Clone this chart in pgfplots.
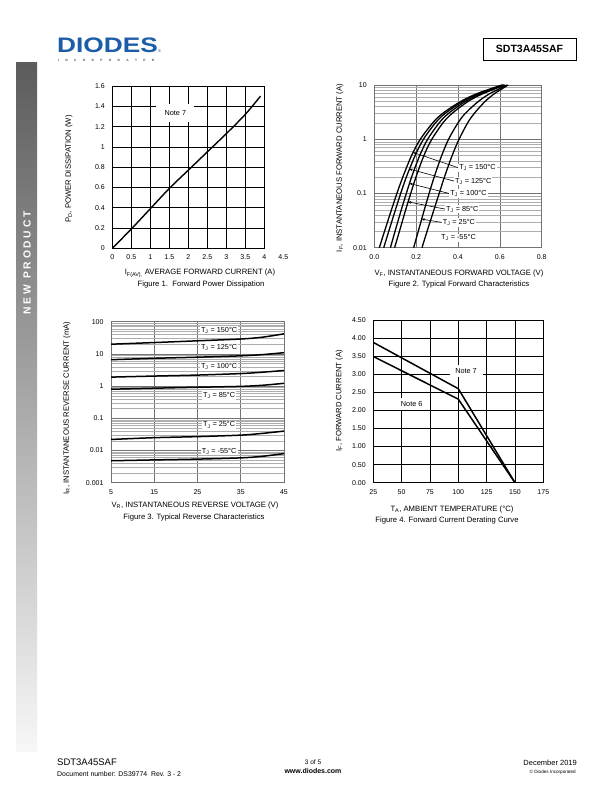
\documentclass[border=0pt]{standalone}
\usepackage{graphicx}
\usepackage{pgfplots}
\pgfplotsset{compat=1.18}
\usetikzlibrary{arrows.meta}
\usepackage{fontspec}
\setmainfont{Liberation Sans}
\definecolor{diodesblue}{HTML}{1D5CA8}
\definecolor{gridmaj}{gray}{0.45}
\definecolor{gridmin}{gray}{0.68}
\newcommand{\tk}{\fontsize{7}{8}\selectfont}
\newcommand{\lb}{\fontsize{7.7}{9}\selectfont}
\newcommand{\an}{\fontsize{7.3}{8.5}\selectfont}
\pgfplotsset{
  base/.style={scale only axis, anchor=south west, clip mode=individual,
    tick label style={font=\tk}, /pgf/number format/assume math mode=true,
    xticklabel style={yshift=-3pt}, yticklabel style={xshift=-4pt},
    major tick length=0pt, minor tick length=0pt},
  logminor/.style={minor ytick={0.002,0.003,0.004,0.005,0.006,0.007,0.008,0.009,
     0.02,0.03,0.04,0.05,0.06,0.07,0.08,0.09,0.2,0.3,0.4,0.5,0.6,0.7,0.8,0.9,
     2,3,4,5,6,7,8,9,20,30,40,50,60,70,80,90}},
}
\begin{document}
\begin{tikzpicture}[x=1pt,y=1pt]
\path[use as bounding box] (0,0) rectangle (612,792);
\fill[white] (0,0) rectangle (612,792);

% ---------- header ----------
\node[anchor=base west, inner sep=0pt, text=diodesblue, font=\fontsize{21}{21}\selectfont\bfseries] at (57,792-53) {\scalebox{1.25}[1]{DIODES}};
\node[anchor=base west, inner sep=0pt, text=diodesblue, font=\fontsize{4}{4}\selectfont] at (158,792-53) {®};
\node[anchor=base west, inner sep=0pt, text=black!70, font=\fontsize{3.2}{3.2}\selectfont\bfseries] at (58,792-61.5) {\makebox[96pt][s]{I\hfill N\hfill C\hfill O\hfill R\hfill P\hfill O\hfill R\hfill A\hfill T\hfill E\hfill D}};
\draw[line width=0.8pt] (483,792-38) rectangle (576,792-60);
\node[font=\fontsize{10.5}{11}\selectfont\bfseries] at (529.5,792-49) {SDT3A45SAF};

% ---------- sidebar ----------
\shade[top color=black!64, bottom color=black!3] (16,792-63) rectangle (37,792-752);
\node[rotate=90, text=white, font=\fontsize{10.3}{11}\selectfont\bfseries] at (27,792-263) {N\kern2.7pt E\kern2.7pt W\kern6.5pt P\kern2.7pt R\kern2.7pt O\kern2.7pt D\kern2.7pt U\kern2.7pt C\kern2.7pt T};

% ---------- footer ----------
\node[anchor=base west, inner sep=0pt, font=\fontsize{9.5}{10}\selectfont] at (57,792-766) {SDT3A45SAF};
\node[anchor=base west, inner sep=0pt, font=\fontsize{6.9}{8}\selectfont] at (57,792-776) {Document number: DS39774\ \ Rev. 3 - 2};
\node[anchor=base, inner sep=0pt, font=\fontsize{6.5}{7}\selectfont] at (313,792-764.5) {3 of 5};
\node[anchor=base, inner sep=0pt, font=\fontsize{7}{8}\selectfont\bfseries] at (313,792-774) {www.diodes.com};
\node[anchor=base east, inner sep=0pt, font=\fontsize{7.5}{8}\selectfont] at (577,792-766) {December 2019};
\node[anchor=base east, inner sep=0pt, font=\fontsize{4.6}{5}\selectfont] at (576,792-773.5) {© Diodes Incorporated};

% ---------- Figure 1 ----------
\begin{axis}[base, at={(112.3pt,543.7pt)}, width=152pt, height=162.3pt,
  xmin=0, xmax=4, ymin=0, ymax=1.6,
  xtick={0,0.5,1,1.5,2,2.5,3,3.5,4}, xticklabels={0,0.5,1,1.5,2,2.5,3,3.5,4},
  ytick={0,0.2,0.4,0.6,0.8,1,1.2,1.4,1.6}, yticklabels={0,0.2,0.4,0.6,0.8,1,1.2,1.4,1.6},
  grid=major, major grid style={black, line width=0.6pt},
  axis line style={black, line width=0.8pt}]
\addplot[black, line width=1.4pt, smooth] coordinates {(0,0) (0.5,0.19) (1,0.39) (1.5,0.59) (2,0.77) (2.5,0.95) (3,1.13) (3.5,1.32) (3.9,1.5)};
\node[fill=white, minimum width=38pt, minimum height=18pt, inner sep=0pt, font=\an] at (axis cs:1.66,1.33) {Note 7};
\node[font=\tk, anchor=north, yshift=-3pt] at (axis cs:4.5,0) {4.5};
\end{axis}
\node[font=\lb] at (200,792-273.3) {I\textsubscript{F(AV),} AVERAGE FORWARD CURRENT (A)};
\node[font=\lb] at (201,792-284.5) {Figure 1.\ \ Forward Power Dissipation};
\node[font=\lb, rotate=90] at (69,792-169) {P\textsubscript{D}, POWER DISSIPATION (W)};

% ---------- Figure 2 ----------
\begin{axis}[base, logminor, at={(374.3pt,544.3pt)}, width=167.4pt, height=162.7pt,
  xmin=0, xmax=0.8, ymode=log, ymin=0.01, ymax=10,
  xtick={0,0.2,0.4,0.6,0.8}, xticklabels={0.0,0.2,0.4,0.6,0.8},
  ytick={0.01,0.1,1,10}, yticklabels={0.01,0.1,1,10},
  grid=both, major grid style={gridmaj, line width=0.6pt}, minor grid style={gridmin, line width=0.4pt},
  axis line style={gridmaj, line width=0.6pt}]
\addplot[black, line width=1.3pt, smooth] coordinates {(0.024,0.01) (0.0487,0.02) (0.082,0.05) (0.108,0.1) (0.136,0.2) (0.178,0.5) (0.220,1) (0.279,2) (0.327,3) (0.414,5) (0.494,7) (0.61,10)};
\addplot[black, line width=1.3pt, smooth] coordinates {(0.045,0.01) (0.069,0.02) (0.101,0.05) (0.126,0.1) (0.153,0.2) (0.195,0.5) (0.235,1) (0.292,2) (0.339,3) (0.424,5) (0.502,7) (0.615,10)};
\addplot[black, line width=1.3pt, smooth] coordinates {(0.077,0.01) (0.099,0.02) (0.129,0.05) (0.153,0.1) (0.178,0.2) (0.217,0.5) (0.255,1) (0.310,2) (0.355,3) (0.436,5) (0.511,7) (0.62,10)};
\addplot[black, line width=1.3pt, smooth] coordinates {(0.097,0.01) (0.120,0.02) (0.150,0.05) (0.174,0.1) (0.199,0.2) (0.237,0.5) (0.275,1) (0.328,2) (0.372,3) (0.449,5) (0.522,7) (0.625,10)};
\addplot[black, line width=1.3pt, smooth] coordinates {(0.188,0.01) (0.210,0.02) (0.239,0.05) (0.262,0.1) (0.286,0.2) (0.322,0.5) (0.355,1) (0.400,2) (0.435,3) (0.498,5) (0.554,7) (0.635,10)};
\addplot[black, line width=1.3pt, smooth] coordinates {(0.228,0.01) (0.252,0.02) (0.285,0.05) (0.310,0.1) (0.335,0.2) (0.372,0.5) (0.405,1) (0.446,2) (0.478,3) (0.530,5) (0.576,7) (0.64,10)};
\draw[line width=0.6pt, -{Stealth[length=3.2pt,width=2.6pt]}] (axis cs:0.401,0.298) -- (axis cs:0.186,0.57);
\draw[line width=0.6pt, -{Stealth[length=3.2pt,width=2.6pt]}] (axis cs:0.381,0.169) -- (axis cs:0.167,0.282);
\draw[line width=0.6pt, -{Stealth[length=3.2pt,width=2.6pt]}] (axis cs:0.358,0.1) -- (axis cs:0.168,0.153);
\draw[line width=0.6pt, -{Stealth[length=3.2pt,width=2.6pt]}] (axis cs:0.338,0.0515) -- (axis cs:0.161,0.07);
\draw[line width=0.6pt, -{Stealth[length=3.2pt,width=2.6pt]}] (axis cs:0.322,0.0293) -- (axis cs:0.226,0.0337);
\node[anchor=west, fill=white, inner sep=1pt, font=\an] at (axis cs:0.401,0.298) {T\textsubscript{J} = 150°C};
\node[anchor=west, fill=white, inner sep=1pt, font=\an] at (axis cs:0.381,0.169) {T\textsubscript{J} = 125°C};
\node[anchor=west, fill=white, inner sep=1pt, font=\an] at (axis cs:0.358,0.1) {T\textsubscript{J} = 100°C};
\node[anchor=west, fill=white, inner sep=1pt, font=\an] at (axis cs:0.338,0.0515) {T\textsubscript{J} = 85°C};
\node[anchor=west, fill=white, inner sep=1pt, font=\an] at (axis cs:0.322,0.0293) {T\textsubscript{J} = 25°C};
\node[anchor=west, fill=white, inner sep=1pt, font=\an] at (axis cs:0.314,0.0152) {T\textsubscript{J} = -55°C};
\end{axis}
\node[font=\lb] at (459,792-273.7) {V\textsubscript{F}, INSTANTANEOUS FORWARD VOLTAGE (V)};
\node[font=\lb] at (459,792-285) {Figure 2. Typical Forward Characteristics};
\node[font=\lb, rotate=90] at (340,792-168) {I\textsubscript{F}, INSTANTANEOUS FORWARD CURRENT (A)};

% ---------- Figure 3 ----------
\begin{axis}[base, logminor, at={(111pt,309.3pt)}, width=173pt, height=161pt,
  xmin=5, xmax=45, ymode=log, ymin=0.001, ymax=100,
  xtick={5,15,25,35,45}, xticklabels={5,15,25,35,45},
  ytick={0.001,0.01,0.1,1,10,100}, yticklabels={0.001,0.01,0.1,1,10,100},
  grid=both, major grid style={gridmaj, line width=0.6pt}, minor grid style={gridmin, line width=0.4pt},
  axis line style={gridmaj, line width=0.6pt}]
\addplot[black, line width=1.5pt, smooth] coordinates {(5,20) (15,22.5) (25,25.5) (35,29) (40,33) (45,42)};
\addplot[black, line width=1.5pt, smooth] coordinates {(5,6.6) (15,7.3) (25,7.9) (35,8.7) (40,9.5) (45,10.9)};
\addplot[black, line width=1.5pt, smooth] coordinates {(5,1.9) (15,2.05) (25,2.2) (35,2.45) (40,2.7) (45,3.05)};
\addplot[black, line width=1.5pt, smooth] coordinates {(5,0.8) (15,0.86) (25,0.92) (35,0.98) (40,1.06) (45,1.22)};
\addplot[black, line width=1.5pt, smooth] coordinates {(5,0.022) (15,0.025) (25,0.027) (35,0.030) (40,0.034) (45,0.040)};
\addplot[black, line width=1.5pt, smooth] coordinates {(5,0.0048) (15,0.0051) (25,0.0054) (35,0.0059) (40,0.0066) (45,0.0080)};
\node[fill=white, inner sep=1.2pt, font=\an] at (axis cs:30,55) {T\textsubscript{J} = 150°C};
\node[fill=white, inner sep=1.2pt, font=\an] at (axis cs:30,15.6) {T\textsubscript{J} = 125°C};
\node[fill=white, inner sep=1.2pt, font=\an] at (axis cs:30,4.0) {T\textsubscript{J} = 100°C};
\node[fill=white, inner sep=1.2pt, font=\an] at (axis cs:30,0.5) {T\textsubscript{J} = 85°C};
\node[fill=white, inner sep=1.2pt, font=\an] at (axis cs:30,0.062) {T\textsubscript{J} = 25°C};
\node[fill=white, inner sep=1.2pt, font=\an] at (axis cs:30,0.0096) {T\textsubscript{J} = -55°C};
\end{axis}
\node[font=\lb] at (195,792-506) {V\textsubscript{R}, INSTANTANEOUS REVERSE VOLTAGE (V)};
\node[font=\lb] at (194,792-517.5) {Figure 3. Typical Reverse Characteristics};
\node[font=\lb, rotate=90] at (67,792-408) {I\textsubscript{R}, INSTANTANEOUS REVERSE CURRENT (mA)};

% ---------- Figure 4 ----------
\begin{axis}[base, at={(373.3pt,309.3pt)}, width=170pt, height=162.7pt,
  xmin=25, xmax=175, ymin=0, ymax=4.5,
  xtick={25,50,75,100,125,150,175}, xticklabels={25,50,75,100,125,150,175},
  ytick={0,0.5,1,1.5,2,2.5,3,3.5,4,4.5}, yticklabels={0.00,0.50,1.00,1.50,2.00,2.50,3.00,3.50,4.00,4.50},
  grid=major, major grid style={black, line width=0.6pt},
  axis line style={black, line width=0.8pt}]
\addplot[black, line width=1.5pt] coordinates {(25,3.88) (100,2.6) (150,0)};
\addplot[black, line width=1.5pt] coordinates {(25,3.49) (100,2.31) (150,0)};
\node[fill=white, minimum width=33pt, minimum height=12pt, inner sep=0pt, font=\an] at (axis cs:106.8,3.09) {Note 7};
\node[fill=white, minimum width=28pt, minimum height=12pt, inner sep=0pt, font=\an] at (axis cs:58.9,2.18) {Note 6};
\end{axis}
\node[font=\lb] at (452,792-509.3) {T\textsubscript{A}, AMBIENT TEMPERATURE (°C)};
\node[font=\lb] at (447,792-521) {Figure 4. Forward Current Derating Curve};
\node[font=\lb, rotate=90] at (339.5,792-401) {I\textsubscript{F}, FORWARD CURRENT (A)};
\end{tikzpicture}
\end{document}
